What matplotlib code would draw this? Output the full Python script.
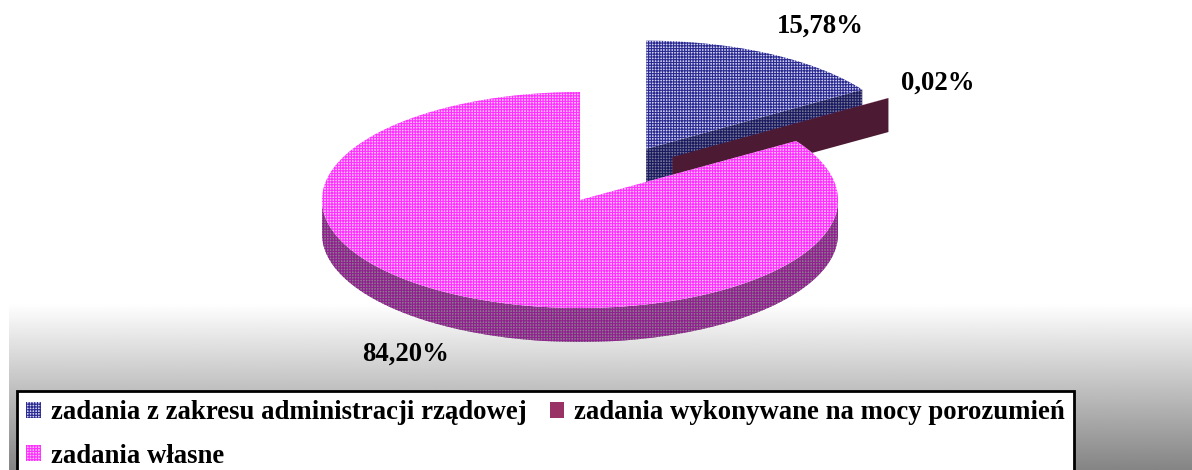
import numpy as np
import matplotlib.pyplot as plt
from matplotlib.patches import Polygon, Patch

plt.rcParams['font.family'] = ['Liberation Serif', 'DejaVu Serif']
plt.rcParams['hatch.linewidth'] = 0.8

# data
categories = ['zadania z zakresu administracji rządowej',
              'zadania wykonywane na mocy porozumień',
              'zadania własne']
shares = [15.78, 0.02, 84.20]
pct_labels = ['15,78%', '0,02%', '84,20%']

# styles per slice
top_face = ['#d4d4f4', '#993366', '#ffc4ff']
top_hatch = ['#2a2a90', '#993366', '#ff30ff']
side_face = ['#7a7a98', '#4d1a33', '#8c7a8c']
side_hatch = ['#1a1a60', '#4d1a33', '#902090']
hatches = ['++++++', None, '++++++']
explode = [0.54, 0.535, 0.0]
explode_angle = [None, 42.0, None]   # direction override (deg, clockwise from top)
lab_f = [(1.42, 1.29), (1.23, 1.25), (1.42, 1.27)]

W, H = 1192, 470
cx, cy, rx, ry, depth = 580, 200, 258, 108, 34

fig = plt.figure(figsize=(W / 100, H / 100), dpi=100)
ax = fig.add_axes([0, 0, 1, 1])

# grey gradient at the bottom
grad = np.linspace(1.0, 0.52, 200).reshape(-1, 1)
ax.imshow(grad, cmap='gray', vmin=0, vmax=1, aspect='auto',
          extent=[9, W, H, 303], origin='upper', zorder=0)
ax.set_xlim(0, W)
ax.set_ylim(H, 0)
ax.axis('off')

bounds = np.concatenate([[0], np.cumsum(shares)]) / sum(shares) * 360


def arc(t0, t1, ox, oy, dz=0.0, n=120):
    t = np.radians(np.linspace(t0, t1, max(2, n)))
    return np.column_stack([ox + rx * np.sin(t), oy - ry * np.cos(t) + dz])


def add(poly, i, side):
    fc = side_face[i] if side else top_face[i]
    hc = side_hatch[i] if side else top_hatch[i]
    ax.add_patch(Polygon(poly, closed=True, facecolor=fc, edgecolor=hc,
                         hatch=hatches[i], linewidth=0, zorder=2))


for i in range(len(shares)):
    t0, t1 = bounds[i], bounds[i + 1]
    mid = np.radians((t0 + t1) / 2)
    ea = mid if explode_angle[i] is None else np.radians(explode_angle[i])
    ox = cx + explode[i] * rx * np.sin(ea)
    oy = cy - explode[i] * ry * np.cos(ea)

    # outer wall (front half only)
    a, b = max(t0, 90), min(t1, 270)
    if b > a:
        upper = arc(a, b, ox, oy)
        lower = arc(a, b, ox, oy, depth)[::-1]
        add(np.vstack([upper, lower]), i, True)

    # radial wall at end angle
    if np.sin(np.radians(t1)) > 1e-6:
        e = arc(t1, t1, ox, oy)[0]
        add([(ox, oy), e, (e[0], e[1] + depth), (ox, oy + depth)], i, True)
    # radial wall at start angle
    if np.sin(np.radians(t0)) < -1e-6:
        e = arc(t0, t0, ox, oy)[0]
        add([(ox, oy), e, (e[0], e[1] + depth), (ox, oy + depth)], i, True)

    # top
    add(np.vstack([[(ox, oy)], arc(t0, t1, ox, oy, n=int((t1 - t0) * 2) + 2)]), i, False)

    # percentage label
    fx, fy = lab_f[i]
    lx = ox + fx * rx * np.sin(mid)
    ly = oy - fy * ry * np.cos(mid) + (depth if np.cos(mid) < 0 else 0)
    ax.text(lx, ly, pct_labels[i], ha='center', va='center',
            fontsize=19.3, fontweight='bold', zorder=5)

handles = [Patch(facecolor=top_face[i], edgecolor=top_hatch[i], hatch=hatches[i],
                 linewidth=0, label=categories[i]) for i in range(3)]
order = [0, 2, 1]
leg = fig.legend(handles=[handles[k] for k in order], ncol=2, loc='upper left',
                 bbox_to_anchor=(17 / W, 0, (1074 - 17) / W, 1 - 391 / H),
                 mode='expand', borderaxespad=0, fancybox=False,
                 framealpha=1, edgecolor='black', borderpad=0.35,
                 handlelength=0.55, handleheight=0.55, handletextpad=0.35,
                 labelspacing=0.68, columnspacing=1.0,
                 prop={'weight': 'bold', 'size': 19.3})
leg.get_frame().set_linewidth(2)

fig.savefig('out.png', dpi=100)
